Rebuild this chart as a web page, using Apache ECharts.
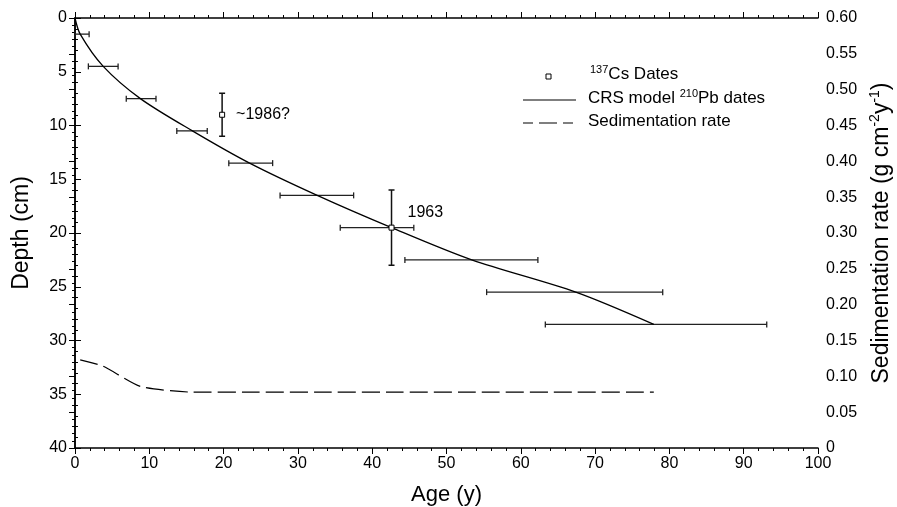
<!DOCTYPE html>
<html><head><meta charset="utf-8">
<script src="https://cdn.jsdelivr.net/npm/echarts@6/dist/echarts.min.js"></script>
<style>html,body{margin:0;padding:0;background:#fff}#c{width:897px;height:507px}</style>
</head><body><div id="c"></div>
<script>
// CRS model 210Pb dates: age (y) vs depth (cm)
const crsAge   = [0, 0.7, 3.8, 8.8, 15.8, 23.5, 32.6, 42.6, 53.4, 67.4, 77.9];
const crsDepth = [0, 1.5, 4.5, 7.5, 10.5, 13.5, 16.5, 19.5, 22.5, 25.5, 28.5];
// horizontal age error bars at each depth
const errDepth = [1.5, 4.5, 7.5, 10.5, 13.5, 16.5, 19.5, 22.5, 25.5, 28.5];
const errLow   = [0, 1.8, 6.9, 13.7, 20.7, 27.6, 35.7, 44.4, 55.4, 63.3];
const errHigh  = [1.9, 5.8, 10.9, 17.8, 26.6, 37.5, 45.6, 62.3, 79.1, 93.1];
// 137Cs dates
const csAge    = [19.8, 42.6];
const csDepth  = [9.0, 19.5];
const csLow    = [7.0, 16.0];
const csHigh   = [11.0, 23.0];
const csLabels = ['~1986?', '1963'];
// Sedimentation rate (g cm-2 y-1)
const sedAge  = [0.7, 3.8, 8.8, 15.8, 23.5, 32.6, 42.6, 53.4, 67.4, 77.9];
const sedRate = [0.123, 0.114, 0.086, 0.078, 0.078, 0.078, 0.078, 0.078, 0.078, 0.078];
// tick labels
const xTicks = [0,10,20,30,40,50,60,70,80,90,100];
const depthTicks = [0,5,10,15,20,25,30,35,40];

const FONT = 'Liberation Sans, Arial, sans-serif';
const chart = echarts.init(document.getElementById('c'));

const supRich = {
  n: {fontSize: 23, fontFamily: FONT, color: '#000', lineHeight: 28},
  sup: {fontSize: 14, fontFamily: FONT, color: '#000', verticalAlign: 'top', lineHeight: 14}
};

const axisLine = {show: true, lineStyle: {color: '#000', width: 1.5}};

chart.setOption({
  animation: false,
  backgroundColor: '#fff',
  grid: {left: 75, right: 79, top: 18, bottom: 59, containLabel: false, outerBoundsMode: 'none'},
  xAxis: [{
    type: 'value', min: 0, max: 100, interval: 10, position: 'bottom',
    name: 'Age (y)', nameLocation: 'middle', nameGap: 36,
    nameTextStyle: {fontSize: 22, fontFamily: FONT, color: '#000'},
    axisLine: axisLine,
    axisTick: {inside: true, length: 6, lineStyle: {color: '#000'}},
    minorTick: {show: true, splitNumber: 5, length: 3, lineStyle: {color: '#000'}},
    axisLabel: {fontSize: 16, fontFamily: FONT, color: '#000', margin: 8,
      formatter: v => xTicks.includes(v) ? String(v) : ''},
    splitLine: {show: false}
  }, {
    type: 'value', min: 0, max: 100, interval: 10, position: 'top',
    axisLine: axisLine,
    axisTick: {inside: true, length: 6, lineStyle: {color: '#000'}},
    minorTick: {show: true, splitNumber: 5, length: 3, lineStyle: {color: '#000'}},
    axisLabel: {show: false}, splitLine: {show: false}
  }],
  yAxis: [{
    type: 'value', min: 0, max: 40, interval: 5, inverse: true, position: 'left',
    name: 'Depth (cm)', nameLocation: 'middle', nameGap: 42, nameRotate: 90,
    nameTextStyle: {fontSize: 23, fontFamily: FONT, color: '#000'},
    axisLine: axisLine,
    axisTick: {inside: true, length: 6, lineStyle: {color: '#000'}},
    minorTick: {show: true, splitNumber: 5, length: 3, lineStyle: {color: '#000'}},
    axisLabel: {fontSize: 16, fontFamily: FONT, color: '#000', margin: 8,
      formatter: v => depthTicks.includes(v) ? String(v) : ''},
    splitLine: {show: false}
  }, {
    type: 'value', min: 0, max: 0.6, interval: 0.05, position: 'right',
    name: '{n|Sedimentation rate (g cm}{sup|-2}{n|y}{sup|-1}{n|)}',
    nameLocation: 'middle', nameGap: 50, nameRotate: 90,
    nameTextStyle: {fontSize: 23, fontFamily: FONT, color: '#000', rich: supRich},
    axisLine: axisLine,
    axisTick: {inside: true, length: 6, lineStyle: {color: '#000'}},
    minorTick: {show: true, splitNumber: 5, length: 3, lineStyle: {color: '#000'}},
    axisLabel: {fontSize: 16, fontFamily: FONT, color: '#000', margin: 8,
      formatter: v => (Math.abs(v) < 1e-9 ? '0' : v.toFixed(2))},
    splitLine: {show: false}
  }],
  series: [
    {
      type: 'line', name: 'CRS model 210Pb dates', xAxisIndex: 0, yAxisIndex: 0,
      data: crsAge.map((a, i) => [a, crsDepth[i]]),
      showSymbol: false, smooth: 0.3,
      lineStyle: {color: '#000', width: 1.3}, z: 3
    },
    {
      type: 'custom', name: 'age errors', xAxisIndex: 0, yAxisIndex: 0,
      data: errDepth.map((d, i) => [errLow[i], errHigh[i], d]),
      renderItem: function (params, api) {
        const p1 = api.coord([api.value(0), api.value(2)]);
        const p2 = api.coord([api.value(1), api.value(2)]);
        const st = {stroke: '#222', lineWidth: 1.3};
        return {type: 'group', children: [
          {type: 'line', shape: {x1: p1[0], y1: p1[1], x2: p2[0], y2: p2[1]}, style: st},
          {type: 'line', shape: {x1: p1[0], y1: p1[1] - 3, x2: p1[0], y2: p1[1] + 3}, style: st},
          {type: 'line', shape: {x1: p2[0], y1: p2[1] - 3, x2: p2[0], y2: p2[1] + 3}, style: st}
        ]};
      }, z: 2
    },
    {
      type: 'custom', name: 'cs errors', xAxisIndex: 0, yAxisIndex: 0,
      data: csAge.map((a, i) => [a, csLow[i], csHigh[i]]),
      renderItem: function (params, api) {
        const p1 = api.coord([api.value(0), api.value(1)]);
        const p2 = api.coord([api.value(0), api.value(2)]);
        const st = {stroke: '#111', lineWidth: 1.5};
        return {type: 'group', children: [
          {type: 'line', shape: {x1: p1[0], y1: p1[1], x2: p2[0], y2: p2[1]}, style: st},
          {type: 'line', shape: {x1: p1[0] - 3, y1: p1[1], x2: p1[0] + 3, y2: p1[1]}, style: st},
          {type: 'line', shape: {x1: p2[0] - 3, y1: p2[1], x2: p2[0] + 3, y2: p2[1]}, style: st}
        ]};
      }, z: 2
    },
    {
      type: 'scatter', name: '137Cs Dates', xAxisIndex: 0, yAxisIndex: 0,
      data: csAge.map((a, i) => ({
        value: [a, csDepth[i]],
        label: {show: true, formatter: csLabels[i], position: 'right',
          offset: i === 0 ? [6, 0] : [8, -15],
          fontSize: 16, fontFamily: FONT, color: '#000', textBorderWidth: 0, opacity: 1}
      })),
      symbol: 'rect', symbolSize: 5,
      itemStyle: {color: '#fff', borderColor: '#000', borderWidth: 1, opacity: 1}, z: 4
    },
    {
      type: 'line', name: 'Sedimentation rate', xAxisIndex: 0, yAxisIndex: 1,
      data: sedAge.map((a, i) => [a, sedRate[i]]),
      showSymbol: false, smooth: 0.2,
      lineStyle: {color: '#000', width: 1.2, type: [18, 6]}, z: 3
    }
  ],
  graphic: [
    {type: 'rect', shape: {x: 546, y: 74, width: 5, height: 5}, style: {fill: '#fff', stroke: '#000', lineWidth: 1}},
    {type: 'text', left: 590, top: 64, style: {
      text: '{sup|137}{n|Cs Dates}', rich: {
        n: {fontSize: 17, fontFamily: FONT, fill: '#000', lineHeight: 20},
        sup: {fontSize: 11, fontFamily: FONT, fill: '#000', verticalAlign: 'top', lineHeight: 11}}}},
    {type: 'line', shape: {x1: 523, y1: 100, x2: 576, y2: 100}, style: {stroke: '#000', lineWidth: 1.2}},
    {type: 'text', left: 588, top: 88, style: {
      text: '{n|CRS model }{sup|210}{n|Pb dates}', rich: {
        n: {fontSize: 17, fontFamily: FONT, fill: '#000', lineHeight: 20},
        sup: {fontSize: 11, fontFamily: FONT, fill: '#000', verticalAlign: 'top', lineHeight: 11}}}},
    {type: 'line', shape: {x1: 523, y1: 123, x2: 576, y2: 123}, style: {stroke: '#000', lineWidth: 1.2, lineDash: [10, 6, 18, 6]}},
    {type: 'text', left: 588, top: 113, style: {text: 'Sedimentation rate', fontSize: 17, fontFamily: FONT, fill: '#000'}}
  ]
});
</script></body></html>
